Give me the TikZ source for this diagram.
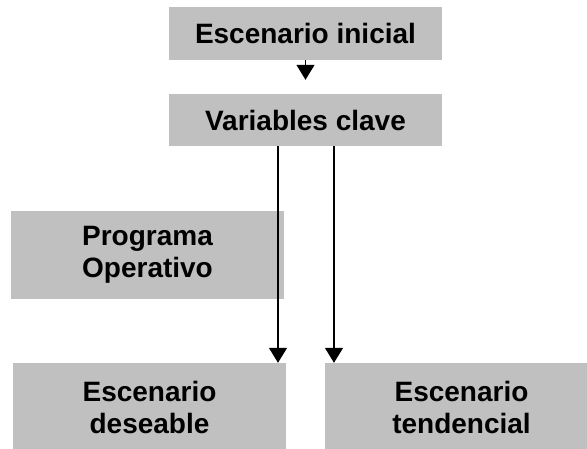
\documentclass[tikz,border=0pt]{standalone}
\usepackage{fontspec}
\setmainfont{Liberation Sans}
\usetikzlibrary{arrows.meta,positioning}
\definecolor{boxgray}{RGB}{192,192,192}

\begin{document}
\begin{tikzpicture}[
  x=1pt, y=-1pt,
  font=\fontsize{28}{32}\selectfont\bfseries,
  box/.style={rectangle, fill=boxgray, draw=none, minimum width=273pt, align=center, inner sep=0pt},
  arr/.style={-{Triangle[length=15pt,width=18pt]}, line width=1.3pt},
]
\useasboundingbox (0,0) rectangle (587,448);
\fill[white] (0,0) rectangle (587,448);
% ---------------- top chain ----------------
\node[box, minimum height=53pt] (ini) at (305.5, 33.5) {Escenario inicial};
\node[box, minimum height=52pt] (var) at (305.5, 120) {Variables clave};

% ---------------- lower boxes ----------------
\node[box, minimum height=88pt] (prog) at (147.5, 255) {Programa\\Operativo};
\node[box, minimum height=88pt] (des)  at (149.5, 407) {Escenario\\deseable};
\node[box, minimum height=88pt] (ten)  at (461.5, 407) {Escenario\\tendencial};

\draw[arr, shorten >=14pt] (ini.south) -- (var.north);
\draw[arr] ([xshift=-27.5pt]var.south) -- ([xshift=-27.5pt]var.south |- des.north);
\draw[arr] ([xshift=28.5pt]var.south) -- ([xshift=28.5pt]var.south |- ten.north);
\end{tikzpicture}
\end{document}
